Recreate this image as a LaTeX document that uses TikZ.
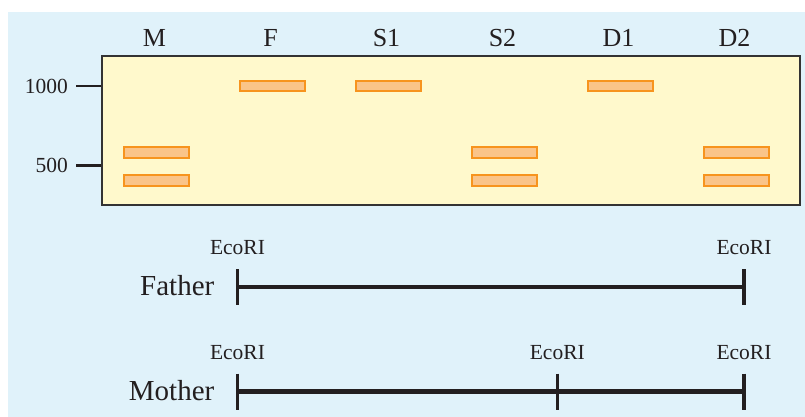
\documentclass[tikz,border=0pt]{standalone}
\usepackage{fontspec}
\setmainfont{Liberation Serif}
\usepackage{xcolor}
\usepackage{tikz}
\usetikzlibrary{positioning, calc}

\definecolor{bgblue}{RGB}{224,242,250}
\definecolor{gelyellow}{RGB}{255,249,204}
\definecolor{geledge}{RGB}{51,51,51}
\definecolor{bandfill}{RGB}{250,196,137}
\definecolor{bandedge}{RGB}{247,148,30}
\definecolor{mapink}{RGB}{35,31,32}

\begin{document}
\begin{tikzpicture}[
    x=1pt, y=-1pt,
    gel/.style={rectangle, draw=geledge, fill=gelyellow, line width=2pt,
                minimum width=698pt, minimum height=149pt, inner sep=0pt},
    band/.style={rectangle, draw=bandedge, fill=bandfill, line width=2pt,
                 minimum width=65pt, minimum height=10.5pt, inner sep=0pt},
    lanelabel/.style={font=\fontsize{26}{26}\selectfont, text=mapink, inner sep=0pt},
    sizelabel/.style={font=\fontsize{21.5}{21.5}\selectfont, text=mapink, inner sep=0pt, anchor=east},
    sizetick/.style={draw=mapink, line width=2.5pt},
    enzyme/.style={font=\fontsize{21.5}{21.5}\selectfont, text=mapink, inner sep=0pt},
    parent/.style={font=\fontsize{29}{29}\selectfont, text=mapink, inner sep=0pt, anchor=east},
    mapline/.style={draw=mapink, line width=4.5pt},
    sitetick/.style={draw=mapink, line width=3.5pt},
  ]
  \useasboundingbox (0,0) rectangle (805,417);
  \fill[bgblue] (8,12) rectangle (805,417);

  % gel with lanes
  \node[gel] (gel) at (450.7,130.5) {};
  \foreach \name [count=\i from 0] in {M,F,S1,S2,D1,D2}
    \node[lanelabel] (lane\name) at (154.5+116*\i,38) {\name};

  \foreach \lane/\i/\y/\tag in {M/0/152.5/a, M/0/180.5/b, F/1/86/a, S1/2/86/a,
                                S2/3/152.5/a, S2/3/180.5/b, D1/4/86/a,
                                D2/5/152.5/a, D2/5/180.5/b}
    \node[band] (band-\lane-\tag) at (156.5+116*\i,\y) {};

  % size markers
  \node[sizelabel] (size1000) at (68,86) {1000};
  \node[sizelabel] (size500) at (68,165.5) {500};
  \draw[sizetick] ([xshift=8pt]size1000.east) -- (size1000.east -| gel.west);
  \draw[sizetick] ([xshift=8pt]size500.east) -- (size500.east -| gel.west);

  % restriction maps
  \coordinate (fa1) at (237.5,287);
  \coordinate (fa2) at (744,287);
  \coordinate (mo1) at (237.5,391.7);
  \coordinate (mo2) at (557.3,391.7);
  \coordinate (mo3) at (744,391.7);

  \draw[mapline] (fa1) -- (fa2);
  \draw[mapline] (mo1) -- (mo3);
  \foreach \c in {fa1,fa2,mo1,mo2,mo3} {
    \draw[sitetick] ([yshift=18pt]\c) -- ([yshift=-18pt]\c);
    \node[enzyme] (eco-\c) at ([yshift=39.5pt]\c) {EcoRI};
  }

  \node[parent] (father) at ([xshift=-23pt,yshift=1pt]fa1) {Father};
  \node[parent] (mother) at ([xshift=-23pt,yshift=1.5pt]mo1) {Mother};
\end{tikzpicture}
\end{document}
